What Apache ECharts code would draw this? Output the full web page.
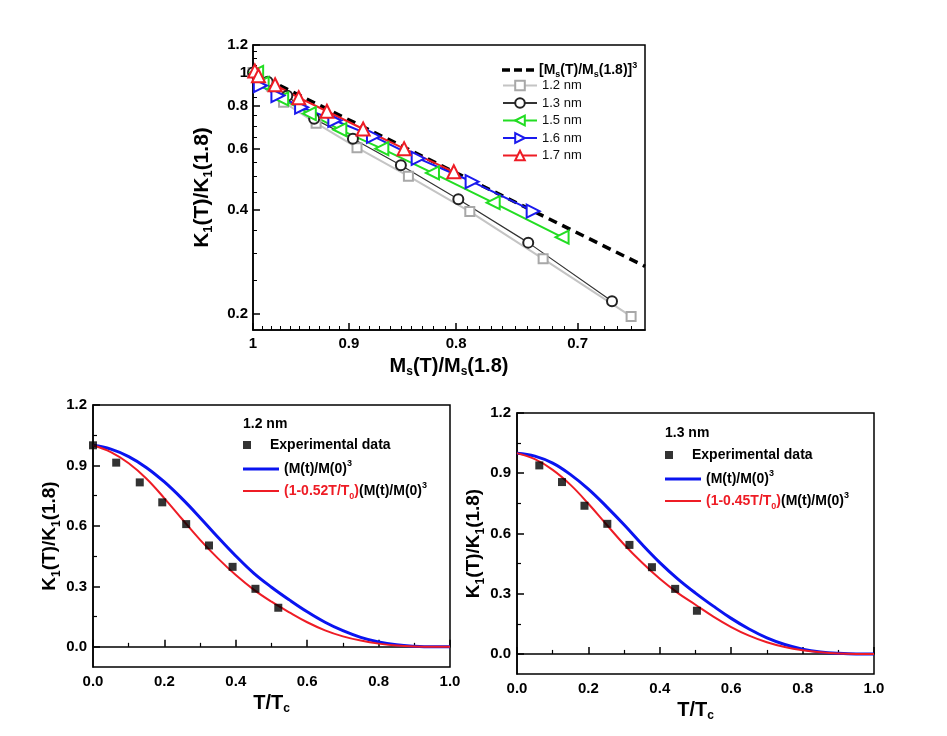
<!DOCTYPE html>
<html><head><meta charset="utf-8">
<script src="https://cdn.jsdelivr.net/npm/echarts@6/dist/echarts.min.js"></script>
<style>html,body{margin:0;padding:0;background:#fff}#c{width:947px;height:736px}</style>
</head><body><div id="c"></div><script>
// ---------- data: top panel (log-log) ----------
const topXTicks = [1, 0.9, 0.8, 0.7];
const topYTicks = [0.2, 0.4, 0.6, 0.8, 1, 1.2];
const topXMinor = [0.66,0.67,0.68,0.69,0.71,0.72,0.73,0.74,0.75,0.76,0.77,0.78,0.79,0.81,0.82,0.83,0.84,0.85,0.86,0.87,0.88,0.89,0.91,0.92,0.93,0.94,0.95,0.96,0.97,0.98,0.99];
const topYMinor = [0.25,0.3,0.35,0.45,0.5,0.55,0.65,0.7,0.75,0.85,0.9,0.95,1.05,1.1,1.15];

const dashX = [1.0, 0.65];
const dashY = [1.0, 0.275];
const nm12X = [1.0, 0.98, 0.967, 0.933, 0.892, 0.843, 0.788, 0.727, 0.660];
const nm12Y = [1.0, 0.914, 0.820, 0.713, 0.606, 0.501, 0.396, 0.289, 0.197];
const nm13X = [1.0, 0.984, 0.963, 0.935, 0.896, 0.850, 0.798, 0.739, 0.674];
const nm13Y = [1.0, 0.939, 0.856, 0.734, 0.643, 0.539, 0.430, 0.322, 0.218];
const nm15X = [0.996, 0.99, 0.969, 0.94, 0.909, 0.868, 0.821, 0.768, 0.712];
const nm15Y = [1.0, 0.93, 0.838, 0.76, 0.683, 0.602, 0.512, 0.420, 0.334];
const nm16X = [0.992, 0.973, 0.948, 0.914, 0.876, 0.834, 0.786, 0.735];
const nm16Y = [0.916, 0.857, 0.793, 0.726, 0.653, 0.564, 0.483, 0.397];
const nm17X = [0.998, 0.994, 0.976, 0.951, 0.922, 0.886, 0.847, 0.802];
const nm17Y = [1.01, 0.978, 0.921, 0.845, 0.772, 0.686, 0.602, 0.516];

// ---------- data: bottom panels ----------
const botXTicks = [0, 0.2, 0.4, 0.6, 0.8, 1.0];
const botYTicks = [0, 0.3, 0.6, 0.9, 1.2];
const botYMinor = [0.15, 0.45, 0.75, 1.05];
const curveT = [0,0.05,0.1,0.15,0.2,0.25,0.3,0.35,0.4,0.45,0.5,0.55,0.6,0.65,0.7,0.75,0.8,0.85,0.9,0.95,1.0];

const blExpT = [0, 0.065, 0.131, 0.194, 0.261, 0.325, 0.391, 0.455, 0.519];
const blExpK = [1.0, 0.914, 0.816, 0.717, 0.609, 0.503, 0.397, 0.288, 0.194];
const blBlue = [1.0,0.981,0.944,0.889,0.818,0.734,0.641,0.544,0.451,0.366,0.296,0.233,0.174,0.122,0.08,0.047,0.024,0.01,0.003,0,0];
const blRed  = [1.0,0.966,0.911,0.834,0.737,0.633,0.531,0.439,0.356,0.284,0.224,0.171,0.122,0.082,0.052,0.031,0.016,0.007,0.002,0,0];

const brExpT = [0.0625, 0.126, 0.189, 0.253, 0.315, 0.378, 0.443, 0.504];
const brExpK = [0.939, 0.856, 0.738, 0.648, 0.543, 0.432, 0.324, 0.215];
const brBlue = [1.0,0.985,0.95,0.893,0.821,0.735,0.643,0.546,0.455,0.374,0.303,0.238,0.177,0.124,0.08,0.047,0.024,0.01,0.003,0,0];
const brRed  = [1.0,0.97,0.917,0.842,0.748,0.646,0.545,0.455,0.374,0.304,0.245,0.186,0.134,0.091,0.058,0.034,0.018,0.008,0.002,0,0];

// ---------- build ----------
const F = 'Liberation Sans, Arial, sans-serif';
const zip = (xs, ys) => xs.map((x, i) => [x, ys[i]]);

function richSet(size, weight, lh) {
  const ss = Math.round(size * 0.62);
  return {
    a: {fontSize: size, fontWeight: weight, fontFamily: F, color: '#000', lineHeight: lh},
    r: {fontSize: size, fontWeight: weight, fontFamily: F, color: '#ee1c25', lineHeight: lh},
    s: {fontSize: ss, fontWeight: weight, fontFamily: F, color: '#000', lineHeight: ss, verticalAlign: 'bottom'},
    rs: {fontSize: ss, fontWeight: weight, fontFamily: F, color: '#ee1c25', lineHeight: ss, verticalAlign: 'bottom'},
    p: {fontSize: ss, fontWeight: weight, fontFamily: F, color: '#000', lineHeight: ss, verticalAlign: 'top'}
  };
}
const fmt2 = v => String(+(+v).toFixed(2));
const fmt1 = v => (+v).toFixed(1);

const G0 = {left: 253, top: 45, width: 392, height: 285};
const G1 = {left: 93, top: 405, width: 357, height: 262};
const G2 = {left: 517, top: 413, width: 357, height: 261};
const gridStyle = {show: true, borderColor: '#000', borderWidth: 1.5, containLabel: false};

const axLine = {show: true, lineStyle: {color: '#000', width: 1.5}};
const lblStyle = {color: '#000', fontWeight: 'bold', fontSize: 15, fontFamily: F};

const ICON_SQ = 'path://M0 0H10V10H0Z';
const ICON_THICK = 'path://M0 0H12V1H0Z';
const ICON_THIN = 'path://M0 0H18V1H0Z';
const ICON_DASH = 'path://M0 0H8V3.5H0Z M12 0H20V3.5H12Z M24 0H32V3.5H24Z';

const option = {
  animation: false,
  backgroundColor: '#fff',
  grid: [Object.assign({}, G0, gridStyle), Object.assign({}, G1, gridStyle), Object.assign({}, G2, gridStyle)],
  title: [
    {text: '1.2 nm', left: 243, top: 417, padding: 0, textStyle: {fontSize: 14, fontWeight: 'bold', fontFamily: F, color: '#000'}},
    {text: '1.3 nm', left: 665, top: 426, padding: 0, textStyle: {fontSize: 14, fontWeight: 'bold', fontFamily: F, color: '#000'}}
  ],
  xAxis: [
    {gridIndex: 0, type: 'log', logBase: 10, min: 0.65, max: 1, inverse: true, position: 'bottom',
     axisLine: axLine, splitLine: {show: false},
     axisTick: {inside: true, length: 7, customValues: topXTicks, lineStyle: {color: '#000', width: 1.5}},
     axisLabel: {customValues: topXTicks, formatter: fmt2, margin: 6, ...lblStyle},
     name: '{a|M}{s|s}{a|(T)/M}{s|s}{a|(1.8)}', nameLocation: 'middle', nameGap: 24,
     nameTextStyle: {rich: richSet(20, 'bold', 24)}},
    {gridIndex: 0, type: 'log', logBase: 10, min: 0.65, max: 1, inverse: true, position: 'top', offset: -285,
     axisLine: {show: false}, splitLine: {show: false}, axisLabel: {show: false},
     axisTick: {inside: false, length: 4, customValues: topXMinor, lineStyle: {color: '#000', width: 1}}},
    {gridIndex: 1, type: 'value', min: 0, max: 1, interval: 0.2, position: 'bottom',
     axisLine: axLine, splitLine: {show: false},
     axisTick: {inside: true, length: 7, lineStyle: {color: '#000', width: 1.5}},
     minorTick: {show: true, splitNumber: 2, length: 4, lineStyle: {color: '#000', width: 1.2}},
     axisLabel: {formatter: fmt1, margin: 7, ...lblStyle},
     name: '{a|T/T}{s|c}', nameLocation: 'middle', nameGap: 24, nameTextStyle: {rich: richSet(20, 'bold', 24)}},
    {gridIndex: 2, type: 'value', min: 0, max: 1, interval: 0.2, position: 'bottom',
     axisLine: axLine, splitLine: {show: false},
     axisTick: {inside: true, length: 7, lineStyle: {color: '#000', width: 1.5}},
     minorTick: {show: true, splitNumber: 2, length: 4, lineStyle: {color: '#000', width: 1.2}},
     axisLabel: {formatter: fmt1, margin: 7, ...lblStyle},
     name: '{a|T/T}{s|c}', nameLocation: 'middle', nameGap: 24, nameTextStyle: {rich: richSet(20, 'bold', 24)}}
  ],
  yAxis: [
    {gridIndex: 0, type: 'log', logBase: 10, min: 0.18, max: 1.2, position: 'left',
     axisLine: axLine, splitLine: {show: false},
     axisTick: {inside: true, length: 7, customValues: topYTicks, lineStyle: {color: '#000', width: 1.5}},
     axisLabel: {customValues: topYTicks, formatter: fmt2, margin: 5, ...lblStyle},
     name: '{a|K}{s|1}{a|(T)/K}{s|1}{a|(1.8)}', nameLocation: 'middle', nameRotate: 90, nameGap: 38,
     nameTextStyle: {rich: richSet(21, 'bold', 26)}},
    {gridIndex: 0, type: 'log', logBase: 10, min: 0.18, max: 1.2, position: 'right', offset: -392,
     axisLine: {show: false}, splitLine: {show: false}, axisLabel: {show: false},
     axisTick: {inside: false, length: 4, customValues: topYMinor, lineStyle: {color: '#000', width: 1}}},
    {gridIndex: 1, type: 'value', min: -0.1, max: 1.2, position: 'left',
     axisLine: axLine, splitLine: {show: false},
     axisTick: {inside: true, length: 7, customValues: botYTicks, lineStyle: {color: '#000', width: 1.5}},
     axisLabel: {customValues: botYTicks, formatter: fmt1, margin: 6, ...lblStyle},
     name: '{a|K}{s|1}{a|(T)/K}{s|1}{a|(1.8)}', nameLocation: 'middle', nameRotate: 90, nameGap: 28,
     nameTextStyle: {rich: richSet(19, 'bold', 24)}},
    {gridIndex: 1, type: 'value', min: -0.1, max: 1.2, position: 'right', offset: -357,
     axisLine: {show: false}, splitLine: {show: false}, axisLabel: {show: false},
     axisTick: {inside: false, length: 4, customValues: botYMinor, lineStyle: {color: '#000', width: 1.2}}},
    {gridIndex: 2, type: 'value', min: -0.1, max: 1.2, position: 'left',
     axisLine: axLine, splitLine: {show: false},
     axisTick: {inside: true, length: 7, customValues: botYTicks, lineStyle: {color: '#000', width: 1.5}},
     axisLabel: {customValues: botYTicks, formatter: fmt1, margin: 6, ...lblStyle},
     name: '{a|K}{s|1}{a|(T)/K}{s|1}{a|(1.8)}', nameLocation: 'middle', nameRotate: 90, nameGap: 24,
     nameTextStyle: {rich: richSet(19, 'bold', 24)}},
    {gridIndex: 2, type: 'value', min: -0.1, max: 1.2, position: 'right', offset: -357,
     axisLine: {show: false}, splitLine: {show: false}, axisLabel: {show: false},
     axisTick: {inside: false, length: 4, customValues: botYMinor, lineStyle: {color: '#000', width: 1.2}}}
  ],
  legend: [
    {data: [{name: 'dash', icon: ICON_DASH}], selectedMode: false, left: 502, top: 61, padding: 0, itemWidth: 32, itemHeight: 12,
     formatter: () => '{a|[M}{s|s}{a|(T)/M}{s|s}{a|(1.8)]}{p|3}', textStyle: {rich: richSet(14, 'bold', 18)}},
    {data: ['1.2 nm', '1.3 nm', '1.5 nm', '1.6 nm', '1.7 nm'], orient: 'vertical', selectedMode: false,
     left: 502, top: 79, padding: 0, itemWidth: 34, itemHeight: 12, itemGap: 4.5,
     textStyle: {fontSize: 13, fontFamily: F, color: '#111', lineHeight: 12}},
    {data: [{name: 'exp12', icon: ICON_SQ}], selectedMode: false, left: 243, top: 438, padding: 0,
     itemWidth: 36, itemHeight: 8, formatter: () => 'Experimental data',
     textStyle: {fontSize: 14, fontWeight: 'bold', fontFamily: F, color: '#000'}},
    {data: [{name: 'blue12', icon: ICON_THICK}], selectedMode: false, left: 243, top: 459, padding: 0, itemWidth: 36, itemHeight: 10,
     formatter: () => '{a|(M(t)/M(0)}{p|3}', textStyle: {rich: richSet(14, 'bold', 20)}},
    {data: [{name: 'red12', icon: ICON_THIN}], selectedMode: false, left: 243, top: 481, padding: 0, itemWidth: 36, itemHeight: 10,
     formatter: () => '{r|(1-0.52T/T}{rs|0}{r|)}{a|(M(t)/M(0)}{p|3}', textStyle: {rich: richSet(14, 'bold', 20)}},
    {data: [{name: 'exp13', icon: ICON_SQ}], selectedMode: false, left: 665, top: 448, padding: 0,
     itemWidth: 36, itemHeight: 8, formatter: () => 'Experimental data',
     textStyle: {fontSize: 14, fontWeight: 'bold', fontFamily: F, color: '#000'}},
    {data: [{name: 'blue13', icon: ICON_THICK}], selectedMode: false, left: 665, top: 469, padding: 0, itemWidth: 36, itemHeight: 10,
     formatter: () => '{a|(M(t)/M(0)}{p|3}', textStyle: {rich: richSet(14, 'bold', 20)}},
    {data: [{name: 'red13', icon: ICON_THIN}], selectedMode: false, left: 665, top: 491, padding: 0, itemWidth: 36, itemHeight: 10,
     formatter: () => '{r|(1-0.45T/T}{rs|0}{r|)}{a|(M(t)/M(0)}{p|3}', textStyle: {rich: richSet(14, 'bold', 20)}}
  ],
  series: [
    {name: 'dash', type: 'line', xAxisIndex: 0, yAxisIndex: 0, data: zip(dashX, dashY), symbol: 'none', z: 1,
     itemStyle: {color: '#000'}, lineStyle: {color: '#000', width: 3.5, type: [9, 6]}},
    {name: '1.2 nm', type: 'line', xAxisIndex: 0, yAxisIndex: 0, data: zip(nm12X, nm12Y),
     symbol: 'emptyRect', symbolSize: 9, itemStyle: {color: '#a8a8a8', borderWidth: 1.5},
     lineStyle: {color: '#c4c4c4', width: 2}},
    {name: '1.3 nm', type: 'line', xAxisIndex: 0, yAxisIndex: 0, data: zip(nm13X, nm13Y),
     symbol: 'emptyCircle', symbolSize: 10, itemStyle: {color: '#222', borderWidth: 1.5},
     lineStyle: {color: '#333', width: 1.2}},
    {name: '1.5 nm', type: 'line', xAxisIndex: 0, yAxisIndex: 0, data: zip(nm15X, nm15Y),
     symbol: 'emptyTriangle', symbolRotate: 90, symbolSize: 13, itemStyle: {color: '#22dd22', borderWidth: 1.5},
     lineStyle: {color: '#22dd22', width: 2}},
    {name: '1.6 nm', type: 'line', xAxisIndex: 0, yAxisIndex: 0, data: zip(nm16X, nm16Y),
     symbol: 'emptyTriangle', symbolRotate: -90, symbolSize: 13, itemStyle: {color: '#1a1aee', borderWidth: 1.5},
     lineStyle: {color: '#1a1aee', width: 2}},
    {name: '1.7 nm', type: 'line', xAxisIndex: 0, yAxisIndex: 0, data: zip(nm17X, nm17Y),
     symbol: 'emptyTriangle', symbolSize: 13, itemStyle: {color: '#ee1c25', borderWidth: 1.5},
     lineStyle: {color: '#ee1c25', width: 2}},

    {name: 'blue12', type: 'line', xAxisIndex: 2, yAxisIndex: 2, data: zip(curveT, blBlue), symbol: 'none',
     smooth: 0.4, itemStyle: {color: '#0a14f0'}, lineStyle: {color: '#0a14f0', width: 3}},
    {name: 'red12', type: 'line', xAxisIndex: 2, yAxisIndex: 2, data: zip(curveT, blRed), symbol: 'none',
     smooth: 0.4, itemStyle: {color: '#ee1c25'}, lineStyle: {color: '#ee1c25', width: 2}},
    {name: 'exp12', type: 'scatter', xAxisIndex: 2, yAxisIndex: 2, data: zip(blExpT, blExpK),
     symbol: 'rect', symbolSize: 8, itemStyle: {color: '#000'}, z: 5},

    {name: 'blue13', type: 'line', xAxisIndex: 3, yAxisIndex: 4, data: zip(curveT, brBlue), symbol: 'none',
     smooth: 0.4, itemStyle: {color: '#0a14f0'}, lineStyle: {color: '#0a14f0', width: 3}},
    {name: 'red13', type: 'line', xAxisIndex: 3, yAxisIndex: 4, data: zip(curveT, brRed), symbol: 'none',
     smooth: 0.4, itemStyle: {color: '#ee1c25'}, lineStyle: {color: '#ee1c25', width: 2}},
    {name: 'exp13', type: 'scatter', xAxisIndex: 3, yAxisIndex: 4, data: zip(brExpT, brExpK),
     symbol: 'rect', symbolSize: 8, itemStyle: {color: '#000'}, z: 5}
  ]
};
const chart = echarts.init(document.getElementById('c'), null, {renderer: 'canvas'});
chart.setOption(option);
</script></body></html>
